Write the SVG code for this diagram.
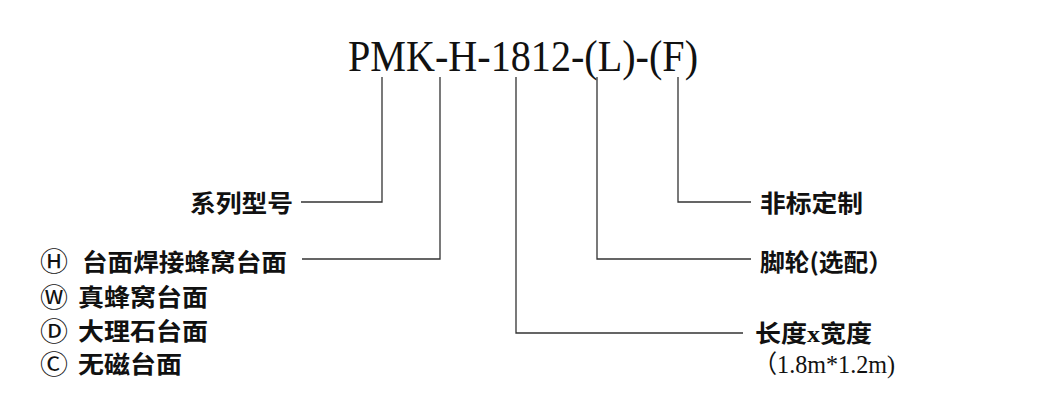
<svg xmlns="http://www.w3.org/2000/svg" width="1057" height="415" viewBox="0 0 1057 415">
<style>
.t{font-family:"Liberation Serif","Noto Sans CJK SC",serif;fill:#111}
.c{font-family:"Noto Sans CJK SC","Liberation Sans",sans-serif;font-weight:700;font-size:24px;fill:#111}
.m{font-family:"DejaVu Sans","Noto Sans CJK SC",sans-serif;font-size:26px;fill:#111}
.s{font-family:"Liberation Serif","Noto Sans CJK SC",serif;font-size:25px;fill:#111}
.ln{fill:none;stroke:#333;stroke-width:1.3}
</style>
<rect width="1057" height="415" fill="#fff"/>
<g id="title"><text class="t" x="348" y="71" font-size="44" textLength="350" lengthAdjust="spacingAndGlyphs">PMK-H-1812-(L)-(F)</text></g>
<g id="connectors">
<polyline class="ln" points="382,77 382,202 301,202"/>
<polyline class="ln" points="440,77 440,259 302,259"/>
<polyline class="ln" points="516,77 516,333 743,333"/>
<polyline class="ln" points="597,77 597,259 751,259"/>
<polyline class="ln" points="678,77 678,202 751,202"/>
</g>
<g id="series"><text class="c" x="190" y="212" textLength="103" lengthAdjust="spacingAndGlyphs">系列型号</text></g>
<g id="table">
<text class="m" x="40" y="271" textLength="28" lengthAdjust="spacingAndGlyphs">Ⓗ</text>
<text class="c" x="82" y="271" textLength="205" lengthAdjust="spacingAndGlyphs">台面焊接蜂窝台面</text>
<text class="m" x="40" y="307" textLength="28" lengthAdjust="spacingAndGlyphs">Ⓦ</text>
<text class="c" x="78" y="306" textLength="130" lengthAdjust="spacingAndGlyphs">真蜂窝台面</text>
<text class="m" x="40" y="341" textLength="28" lengthAdjust="spacingAndGlyphs">Ⓓ</text>
<text class="c" x="78" y="340" textLength="130" lengthAdjust="spacingAndGlyphs">大理石台面</text>
<text class="m" x="40" y="374" textLength="28" lengthAdjust="spacingAndGlyphs">Ⓒ</text>
<text class="c" x="78" y="373" textLength="104" lengthAdjust="spacingAndGlyphs">无磁台面</text>
</g>
<g id="custom"><text class="c" x="760" y="212" textLength="103" lengthAdjust="spacingAndGlyphs">非标定制</text></g>
<g id="caster"><text class="c" x="760" y="271" textLength="133" lengthAdjust="spacingAndGlyphs">脚轮(选配）</text></g>
<g id="size">
<text class="c" x="755" y="342" textLength="117" lengthAdjust="spacingAndGlyphs">长度<tspan font-family="Liberation Serif">x</tspan>宽度</text>
<text class="s" x="753" y="373" textLength="142" lengthAdjust="spacingAndGlyphs">（1.8m*1.2m)</text>
</g>
</svg>
